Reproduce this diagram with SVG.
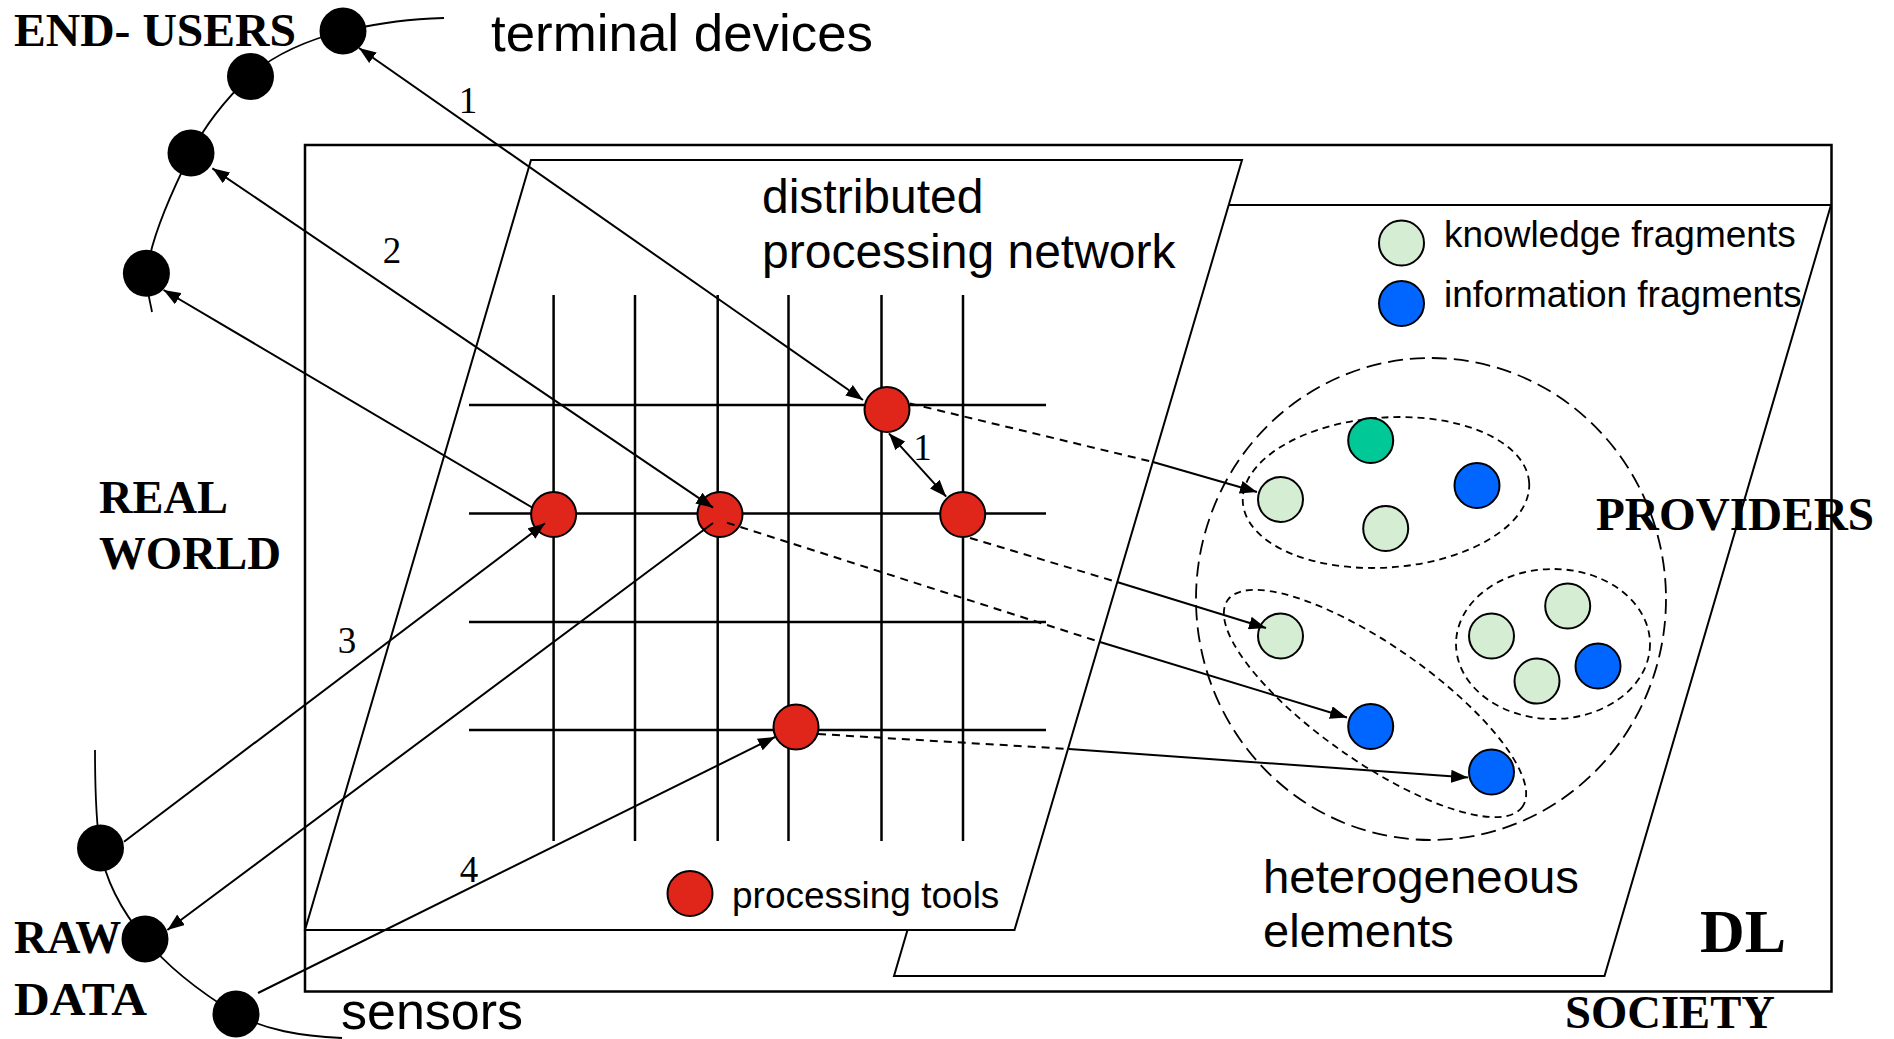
<svg xmlns="http://www.w3.org/2000/svg" width="1894" height="1039" viewBox="0 0 1894 1039">
<defs>
<style>
.frame{fill:none;stroke:#000;stroke-width:2.5}
.plane{fill:#fff;stroke:#000;stroke-width:2}
.grid line{stroke:#000;stroke-width:2.5}
.conn{stroke:#000;stroke-width:2;fill:none}
.dash{stroke:#000;stroke-width:2;fill:none;stroke-dasharray:8 6}
.arc{fill:none;stroke:#000;stroke-width:1.8}
.black{fill:#000}
.tool{fill:#e0251a;stroke:#000;stroke-width:2}
.know{fill:#d5edd3;stroke:#000;stroke-width:2}
.info{fill:#0066ff;stroke:#000;stroke-width:2}
.teal{fill:#00c896;stroke:#000;stroke-width:2}
.grp{fill:none;stroke:#000;stroke-width:1.8;stroke-dasharray:7 5}
.grpL{fill:none;stroke:#000;stroke-width:1.8;stroke-dasharray:15 7}
.bold{font-family:"Liberation Serif","Times New Roman",serif;font-weight:bold;font-size:46px;fill:#000}
.sans{font-family:"Liberation Sans",Arial,sans-serif;fill:#000}
.num{font-family:"Liberation Serif","Times New Roman",serif;font-size:37px;fill:#000;text-anchor:middle}
</style>
<marker id="ah" viewBox="0 0 17 13" refX="17" refY="6.5" markerWidth="17" markerHeight="13" markerUnits="userSpaceOnUse" orient="auto-start-reverse">
<path d="M0,0 L17,6.5 L0,13 z" fill="#000"/>
</marker>
</defs>

<g id="society-frame">
<rect class="frame" x="305" y="145" width="1526.5" height="846.5"/>
</g>

<g id="dl-plane">
<polygon class="plane" points="1120.5,205 1831,205 1604.5,976 894,976"/>
</g>

<g id="processing-network">
<polygon class="plane" points="531,160 1242,160 1014.5,930 305,930"/>
</g>

<g id="grid" class="grid">
<line x1="553.6" y1="295" x2="553.6" y2="841"/>
<line x1="635" y1="295" x2="635" y2="841"/>
<line x1="717.7" y1="295" x2="717.7" y2="841"/>
<line x1="788.5" y1="295" x2="788.5" y2="841"/>
<line x1="881.5" y1="295" x2="881.5" y2="841"/>
<line x1="963" y1="295" x2="963" y2="841"/>
<line x1="469" y1="405" x2="1046" y2="405"/>
<line x1="469" y1="513.5" x2="1046" y2="513.5"/>
<line x1="469" y1="622" x2="1046" y2="622"/>
<line x1="469" y1="730" x2="1046" y2="730"/>
</g>

<g id="end-users-arc">
<path class="arc" d="M444,18 C410,19 385,22 343,31 C300,42 270,58 250,76 C225,100 205,125 191,153 C170,195 150,240 147,273 C146,290 150,300 152,312"/>
</g>
<g id="raw-data-arc">
<path class="arc" d="M95,750 C95,790 96,820 100,848 C106,885 125,915 145,939 C170,970 205,995 236,1014 C265,1030 300,1036 342,1038"/>
</g>

<g id="terminal-1"><circle class="black" cx="343" cy="31" r="23.5"/></g>
<g id="terminal-2"><circle class="black" cx="250.5" cy="76.5" r="23.5"/></g>
<g id="terminal-3"><circle class="black" cx="191" cy="153" r="23.5"/></g>
<g id="terminal-4"><circle class="black" cx="146.4" cy="273.3" r="23.5"/></g>
<g id="sensor-1"><circle class="black" cx="100.5" cy="848" r="23.5"/></g>
<g id="sensor-2"><circle class="black" cx="145" cy="939" r="23.5"/></g>
<g id="sensor-3"><circle class="black" cx="236" cy="1014" r="23.5"/></g>

<g id="tool-a"><circle class="tool" cx="887" cy="409.5" r="22.5"/></g>
<g id="tool-b"><circle class="tool" cx="553.6" cy="514.5" r="22.5"/></g>
<g id="tool-c"><circle class="tool" cx="720" cy="514.5" r="22.5"/></g>
<g id="tool-d"><circle class="tool" cx="962.7" cy="514.5" r="22.5"/></g>
<g id="tool-e"><circle class="tool" cx="796" cy="727" r="22.5"/></g>

<g id="group-outer"><ellipse class="grpL" cx="1431" cy="599" rx="235" ry="241"/></g>
<g id="group-top"><ellipse class="grp" cx="1386" cy="492.5" rx="143.5" ry="75" transform="rotate(-4 1386 492.5)"/></g>
<g id="group-right"><ellipse class="grp" cx="1553" cy="644" rx="97" ry="75"/></g>
<g id="group-lower"><ellipse class="grp" cx="1375" cy="703.5" rx="180" ry="58" transform="rotate(35 1375 703.5)"/></g>

<g id="el-g1"><circle class="know" cx="1280.5" cy="499.5" r="22.5"/></g>
<g id="el-teal"><circle class="teal" cx="1370.7" cy="440.5" r="22.5"/></g>
<g id="el-b1"><circle class="info" cx="1477" cy="485.5" r="22.5"/></g>
<g id="el-g2"><circle class="know" cx="1385.7" cy="528.5" r="22.5"/></g>
<g id="el-g3"><circle class="know" cx="1280.5" cy="636" r="22.5"/></g>
<g id="el-b2"><circle class="info" cx="1370.7" cy="726.5" r="22.5"/></g>
<g id="el-b3"><circle class="info" cx="1491.5" cy="772" r="22.5"/></g>
<g id="el-g4"><circle class="know" cx="1567.7" cy="606" r="22.5"/></g>
<g id="el-g5"><circle class="know" cx="1491.5" cy="636" r="22.5"/></g>
<g id="el-g6"><circle class="know" cx="1537" cy="681" r="22.5"/></g>
<g id="el-b4"><circle class="info" cx="1598" cy="666" r="22.5"/></g>

<g id="legend">
<circle class="know" cx="1401.5" cy="243" r="22.5"/>
<circle class="info" cx="1401.5" cy="303.5" r="22.5"/>
<circle class="tool" cx="690" cy="893.5" r="22.5"/>
</g>

<g id="connectors">
<line class="conn" x1="359" y1="48" x2="863" y2="400" marker-start="url(#ah)" marker-end="url(#ah)"/>
<line class="conn" x1="212.4" y1="168.3" x2="713" y2="507.7" marker-start="url(#ah)" marker-end="url(#ah)"/>
<line class="conn" x1="533" y1="508" x2="163.6" y2="290" marker-end="url(#ah)"/>
<line class="conn" x1="124" y1="841.7" x2="545" y2="523.3" marker-end="url(#ah)"/>
<line class="conn" x1="713" y1="523" x2="167.4" y2="930" marker-end="url(#ah)"/>
<line class="conn" x1="258" y1="993" x2="775" y2="737" marker-end="url(#ah)"/>
<line class="conn" x1="888.9" y1="433.3" x2="946.2" y2="496.7" marker-start="url(#ah)" marker-end="url(#ah)"/>
<line class="dash" x1="910" y1="403.5" x2="1153" y2="462"/>
<line class="conn" x1="1153" y1="462" x2="1257" y2="492" marker-end="url(#ah)"/>
<line class="dash" x1="970" y1="538" x2="1117" y2="582"/>
<line class="conn" x1="1117" y1="582" x2="1266" y2="628" marker-end="url(#ah)"/>
<line class="dash" x1="727" y1="522.7" x2="1100" y2="642"/>
<line class="conn" x1="1100" y1="642" x2="1347" y2="717.5" marker-end="url(#ah)"/>
<line class="dash" x1="818" y1="734" x2="1069" y2="749"/>
<line class="conn" x1="1069" y1="749" x2="1468" y2="777.5" marker-end="url(#ah)"/>
</g>

<g id="labels">
<text class="bold" x="14" y="46" textLength="282" lengthAdjust="spacingAndGlyphs">END- USERS</text>
<text class="bold" x="99" y="513" textLength="129" lengthAdjust="spacingAndGlyphs">REAL</text>
<text class="bold" x="99" y="569" textLength="182" lengthAdjust="spacingAndGlyphs">WORLD</text>
<text class="bold" x="14" y="953">RAW</text>
<text class="bold" x="14" y="1015" textLength="133" lengthAdjust="spacingAndGlyphs">DATA</text>
<text class="bold" x="1596" y="530" textLength="278" lengthAdjust="spacingAndGlyphs">PROVIDERS</text>
<text class="bold" x="1565" y="1028" textLength="210" lengthAdjust="spacingAndGlyphs">SOCIETY</text>
<text class="bold" x="1700" y="952" style="font-size:61px" textLength="86" lengthAdjust="spacingAndGlyphs">DL</text>
<text class="sans" x="491" y="51" font-size="52" textLength="382" lengthAdjust="spacingAndGlyphs">terminal devices</text>
<text class="sans" x="341" y="1029" font-size="52">sensors</text>
<text class="sans" x="762" y="213" font-size="48">distributed</text>
<text class="sans" x="762" y="268" font-size="48">processing network</text>
<text class="sans" x="732" y="908" font-size="37">processing tools</text>
<text class="sans" x="1444" y="247" font-size="37">knowledge fragments</text>
<text class="sans" x="1444" y="307" font-size="37">information fragments</text>
<text class="sans" x="1263" y="893" font-size="47" textLength="316" lengthAdjust="spacingAndGlyphs">heterogeneous</text>
<text class="sans" x="1263" y="947" font-size="47">elements</text>
<text class="num" x="468" y="113">1</text>
<text class="num" x="392" y="263">2</text>
<text class="num" x="347" y="653">3</text>
<text class="num" x="469" y="882">4</text>
<text class="num" x="922.5" y="460">1</text>
</g>
</svg>
